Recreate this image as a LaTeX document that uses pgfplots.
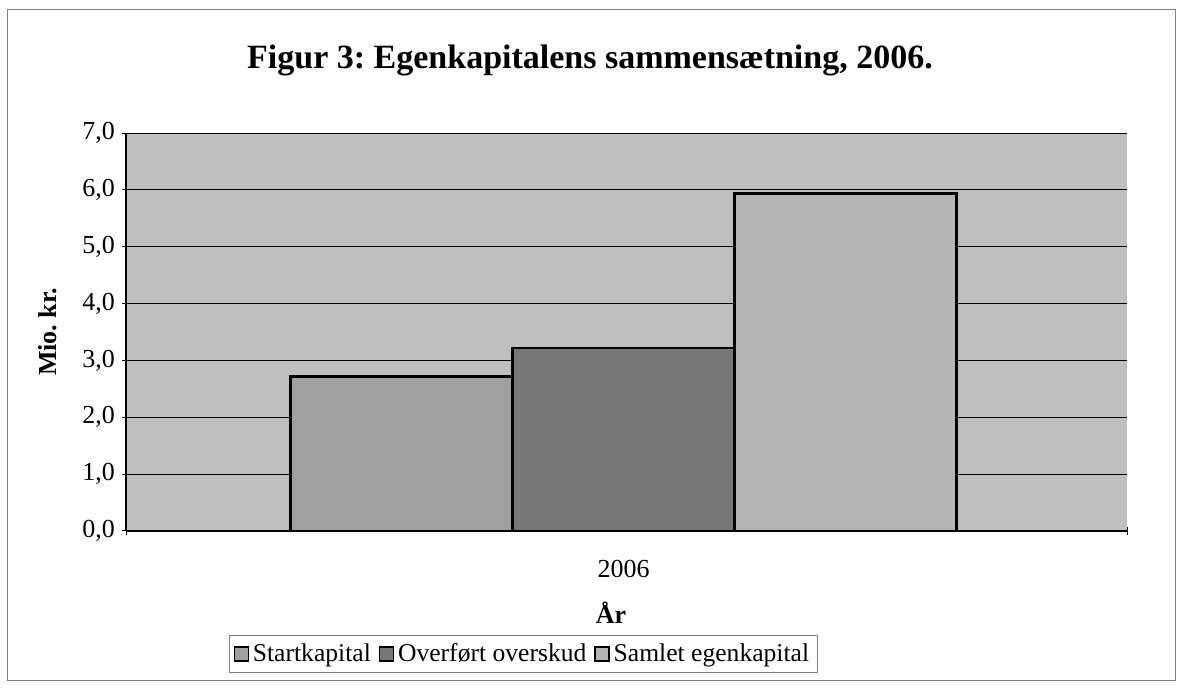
\documentclass[border=0pt]{standalone}
\usepackage{fontspec}
\setmainfont{Liberation Serif}
\usepackage{pgfplots}
\pgfplotsset{compat=1.18}
\definecolor{bggray}{RGB}{191,191,191}
\definecolor{barone}{RGB}{160,160,160}
\definecolor{bartwo}{RGB}{118,118,118}
\definecolor{barthree}{RGB}{180,180,180}
\frenchspacing
\begin{document}
\begin{tikzpicture}[x=0.5pt,y=0.5pt]
\useasboundingbox (0,0) rectangle (1182,-688);
\draw[gray, line width=0.5pt] (7,-10) rectangle (1175,-680);
\node[font=\bfseries\fontsize{17}{20}\selectfont] at (590,-60) {Figur 3: Egenkapitalens sammensætning, 2006.};
\begin{axis}[
  at={(63pt,-265.5pt)}, anchor=south west,
  scale only axis, width=500.5pt, height=199pt,
  ybar, bar width=1, bar shift=0pt,
  xmin=-2.241, xmax=2.268, ymin=0, ymax=7,
  ytick={0,1,2,3,4,5,6,7},
  xtick={-2.241,2.268}, xticklabels={},
  extra x ticks={0}, extra x tick labels={2006},
  extra x tick style={major tick length=0pt, xticklabel style={yshift=-11pt}},
  yticklabel style={/pgf/number format/.cd, fixed, fixed zerofill, precision=1, use comma, assume math mode=true},
  tick label style={font=\fontsize{13}{15}\selectfont},
  tick align=outside, major tick length=4pt,
  tick style={black, line width=0.5pt},
  axis lines=left, axis line style={-, black, line width=0.6pt},
  ymajorgrids, grid style={black, line width=0.5pt},
  axis background/.style={fill=bggray},
  ylabel={\textbf{Mio. kr.}},
  ylabel style={at={(axis description cs:-0.0779,0.5)}, anchor=center, font=\fontsize{13}{15}\selectfont},
  xlabel={\textbf{År}},
  xlabel style={at={(axis description cs:0.4845,-0.206)}, anchor=center, font=\fontsize{13}{15}\selectfont},
  legend columns=3,
  legend style={at={(0.397,-0.309)}, anchor=center, draw=gray, line width=0.5pt,
    font=\fontsize{12.8}{15}\selectfont, inner sep=2pt,
    /tikz/every even column/.append style={column sep=2pt}},
  legend image code/.code={\draw[#1, draw=black, line width=0.6pt] (0pt,-3.5pt) rectangle (7pt,3.5pt);},
]
\addplot[fill=barone, draw=black, line width=1.3pt] coordinates {(-1,2.72)};
\addplot[fill=bartwo, draw=black, line width=1.3pt] coordinates {(0,3.22)};
\addplot[fill=barthree, draw=black, line width=1.3pt] coordinates {(1,5.94)};
\legend{Startkapital, Overført overskud, Samlet egenkapital}
\end{axis}
\end{tikzpicture}
\end{document}
